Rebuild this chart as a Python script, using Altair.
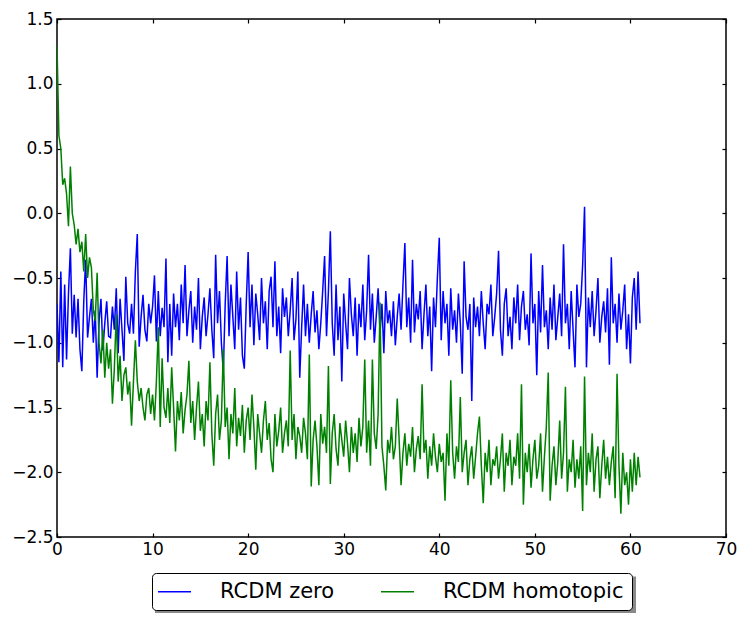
import altair as alt
import pandas as pd

SERIES = ["RCDM zero", "RCDM homotopic"]
COLORS = ["#0000ff", "#008000"]
X_STEP = 0.2

blue = [
    -0.70, -1.15, -0.45, -1.19, -0.55, -1.13, -0.62, -0.27, -0.93, -0.63,
    -0.96, -0.66, -1.05, -1.22, -0.68, -0.36, -0.96, -0.80, -0.66, -1.00,
    -0.75, -1.27, -0.84, -0.66, -1.06, -0.85, -0.68, -0.95, -0.96, -0.72,
    -0.90, -0.58, -1.08, -0.66, -0.90, -1.14, -0.49, -0.85, -0.93, -0.70,
    -0.93, -0.45, -0.16, -1.03, -0.80, -0.63, -0.90, -0.99, -0.70, -0.85,
    -0.72, -0.48, -0.99, -0.60, -0.95, -0.73, -0.88, -0.35, -1.15, -0.70,
    -1.10, -0.62, -0.88, -0.70, -0.98, -0.55, -0.85, -0.40, -0.95, -0.75,
    -0.60, -1.00, -0.72, -0.90, -0.50, -1.05, -0.80, -0.65, -0.95, -0.78,
    -0.58, -0.90, -1.12, -0.32, -0.85, -0.60, -1.00, -1.22, -0.70, -0.33,
    -0.95, -0.55, -0.80, -1.05, -0.45, -0.90, -0.65, -1.10, -1.20, -0.70,
    -0.30, -0.88, -0.55, -1.02, -0.62, -0.78, -0.98, -0.50, -0.85, -0.68,
    -1.05, -0.60, -0.49, -0.88, -0.37, -0.95, -0.72, -1.08, -0.58, -0.80,
    -0.65, -0.95, -0.75, -0.50, -0.98, -0.82, -0.45, -1.27, -0.88, -0.55,
    -0.95, -0.70, -1.00, -0.78, -0.60, -0.92, -0.75, -1.05, -0.85, -0.60,
    -0.33, -0.95, -0.60, -0.14, -0.85, -1.10, -0.55, -0.98, -0.72, -1.30,
    -0.62, -0.85, -1.05, -0.50, -0.78, -0.95, -0.65, -1.10, -0.70, -0.88,
    -0.55, -0.98, -0.75, -0.32, -0.90, -0.62, -1.00, -0.80, -0.58, -0.92,
    -0.70, -1.08, -0.60, -0.85, -0.75, -0.95, -0.68, -1.02, -0.80, -0.62,
    -0.90, -0.55, -0.23, -0.88, -0.65, -1.00, -0.36, -0.92, -0.70, -0.82,
    -0.60, -1.05, -0.78, -0.55, -0.95, -0.72, -1.22, -0.65, -0.88, -0.50,
    -0.19, -0.98, -0.60, -0.85, -0.70, -1.10, -0.58, -0.90, -0.75, -1.00,
    -0.62, -0.85, -1.24, -0.37, -0.80, -0.90, -0.70, -1.45, -0.65, -0.88,
    -0.72, -0.95, -0.60, -0.85, -1.05, -0.70, -0.78, -0.55, -0.95, -0.80,
    -0.62, -0.29, -0.90, -1.10, -0.70, -0.58, -0.95, -0.80, -1.05, -0.65,
    -0.85, -0.55, -0.98, -0.72, -0.60, -0.90, -0.78, -1.02, -0.31, -0.85,
    -0.70, -1.25, -0.60, -0.92, -0.40, -0.88, -0.75, -1.05, -0.65, -0.90,
    -0.55, -0.98, -0.80, -0.62, -0.95, -0.24, -0.85, -0.70, -1.05, -0.60,
    -0.90, -1.19, -0.55, -0.80, -0.70, -0.40, 0.05, -1.19, -0.65, -0.88,
    -0.60, -0.95, -0.75, -0.50, -1.00, -0.80, -0.68, -0.92, -0.58, -1.17,
    -0.34, -0.85, -0.70, -1.00, -0.62, -0.90, -0.75, -0.55, -1.05, -0.78,
    -1.16, -0.65, -0.50, -0.90, -0.45, -0.85,
]

green = [
    1.30, 0.60, 0.50, 0.22, 0.27, 0.15, -0.10, 0.36, 0.00, -0.09,
    -0.24, -0.12, -0.30, -0.22, -0.45, -0.16, -0.50, -0.34, -0.42, -0.75,
    -0.83, -0.46, -1.00, -1.16, -0.90, -1.27, -1.00, -1.20, -1.05, -1.47,
    -1.20, -0.78, -1.30, -1.10, -1.45, -1.25, -1.19, -1.40, -1.30, -1.64,
    -1.30, -0.98, -1.30, -1.45, -1.35, -1.50, -1.60, -1.40, -1.35, -1.55,
    -1.40, -1.60, -1.30, -0.88, -1.65, -1.12, -1.50, -1.58, -1.35, -1.62,
    -1.19, -1.50, -1.84, -1.45, -1.60, -1.38, -1.70, -1.52, -1.40, -1.14,
    -1.62, -1.45, -1.75, -1.50, -1.30, -1.68, -1.55, -1.80, -1.45, -1.60,
    -1.15, -1.70, -1.95, -1.55, -1.40, -1.75, -1.60, -1.05, -1.65, -1.50,
    -1.90, -1.55, -1.70, -1.35, -1.80, -1.58, -1.72, -1.48, -1.85, -1.60,
    -1.50, -1.75, -1.40, -1.65, -1.98, -1.55, -1.70, -1.85, -1.60, -1.45,
    -1.75, -1.62, -1.90, -2.00, -1.55, -1.80, -1.68, -1.50, -1.85, -1.70,
    -1.60, -1.80, -1.06, -1.75, -1.55, -1.90, -1.65, -1.72, -1.85, -1.58,
    -1.70, -1.90, -1.09, -2.11, -1.75, -1.60, -1.80, -2.10, -1.55, -1.78,
    -1.65, -1.85, -1.18, -2.09, -1.70, -1.55, -1.82, -1.95, -1.62, -1.75,
    -1.88, -1.60, -1.78, -2.00, -1.65, -1.85, -1.70, -1.92, -1.58, -1.80,
    -1.65, -1.13, -1.85, -1.60, -1.95, -1.13, -1.70, -1.82, -1.55, -0.69,
    -1.80, -1.95, -2.14, -1.75, -1.85, -1.65, -1.90, -1.80, -1.43, -1.75,
    -2.10, -1.85, -1.70, -1.95, -1.78, -1.88, -1.65, -2.00, -1.82, -1.72,
    -1.90, -1.32, -1.85, -1.75, -2.05, -1.80, -1.95, -1.70, -1.88, -2.00,
    -1.78, -1.92, -1.85, -2.22, -1.70, -1.95, -1.29, -1.85, -2.05, -1.80,
    -1.92, -1.42, -2.00, -1.85, -1.75, -2.10, -1.90, -1.80, -2.05, -1.88,
    -1.70, -1.57, -1.95, -2.24, -1.85, -2.00, -1.75, -2.10, -1.90, -1.95,
    -1.80, -2.05, -1.90, -1.70, -2.15, -1.85, -1.95, -1.75, -2.10, -1.88,
    -1.95, -1.70, -2.05, -1.32, -2.25, -1.85, -2.00, -1.78, -2.12, -1.90,
    -1.75, -2.05, -1.95, -1.70, -2.15, -1.88, -1.65, -1.23, -2.22, -1.95,
    -1.80, -2.10, -1.92, -1.60, -2.05, -1.85, -1.34, -2.15, -1.90, -2.00,
    -1.75, -2.12, -1.90, -2.05, -1.80, -2.30, -1.26, -2.10, -1.85, -2.00,
    -1.70, -2.15, -1.90, -1.80, -2.20, -1.95, -1.75, -2.05, -1.88, -2.10,
    -1.92, -1.80, -2.20, -1.24, -1.95, -2.32, -1.85, -2.10, -2.00, -2.25,
    -1.90, -2.15, -1.85, -2.10, -1.88, -2.04,
]

X_TICKS = [0, 10, 20, 30, 40, 50, 60, 70]
Y_TICKS = [-2.5, -2.0, -1.5, -1.0, -0.5, 0.0, 0.5, 1.0, 1.5]

rows = []
for name, vals in zip(SERIES, [blue, green]):
    for i, v in enumerate(vals):
        rows.append({"x": round(i * X_STEP, 1), "value": v, "series": name})
df = pd.DataFrame(rows)

W, H = 669, 518
FONT = "DejaVu Sans"

xscale = alt.Scale(domain=[0, 70], nice=False, zero=False)
yscale = alt.Scale(domain=[-2.5, 1.5], nice=False, zero=False)

ax_common = dict(grid=False, domain=False, tickSize=4, offset=-4, tickColor="black",
                 tickWidth=1.2, labelFont=FONT, labelFontSize=17, labelColor="black",
                 title=None)

lines = alt.Chart(df).mark_line(strokeWidth=1.5, clip=True).encode(
    x=alt.X("x:Q", scale=xscale,
            axis=alt.Axis(orient="bottom", values=X_TICKS, format="d", labelPadding=4,
                          labelFlush=False, **ax_common)),
    y=alt.Y("value:Q", scale=yscale,
            axis=alt.Axis(orient="left", values=Y_TICKS, format=".1f", labelPadding=4,
                          labelFlush=False, **ax_common)),
    color=alt.Color("series:N", scale=alt.Scale(domain=SERIES, range=COLORS),
                    sort=SERIES,
                    legend=alt.Legend(title=None, orient="none", legendX=95, legendY=554,
                                      direction="horizontal",
                                      symbolType="M-3,0H3", symbolSize=121,
                                      symbolStrokeWidth=1.5,
                                      symbolOffset=4, labelOffset=35, columnPadding=43,
                                      labelFont=FONT, labelFontSize=21, labelColor="black",
                                      padding=8, fillColor="white", strokeColor="black",
                                      cornerRadius=4, labelLimit=400)),
    detail="series:N",
)

ghost = alt.Chart(df).mark_line(strokeOpacity=0).encode(
    x=alt.X("x:Q", scale=xscale,
            axis=alt.Axis(orient="top", values=X_TICKS, labels=False, **ax_common)),
    y=alt.Y("value:Q", scale=yscale,
            axis=alt.Axis(orient="right", values=Y_TICKS, labels=False, **ax_common)),
    detail="series:N",
)

shadow = alt.Chart(pd.DataFrame({"k": [0]})).mark_rect(color="#8a8a8a").encode(
    x=alt.value(98), x2=alt.value(579), y=alt.value(557.5), y2=alt.value(594.5)
)

chart = alt.layer(shadow, lines, ghost).resolve_axis(
    x="independent", y="independent"
).properties(
    width=W, height=H,
    background="white",
    autosize=alt.AutoSizeParams(type="none"),
    padding={"left": 49, "top": 11, "right": 12, "bottom": 76},
).configure_view(
    stroke="black", strokeWidth=1.5
)

chart.save("out.html", embed_options={"renderer": "svg", "actions": False})
